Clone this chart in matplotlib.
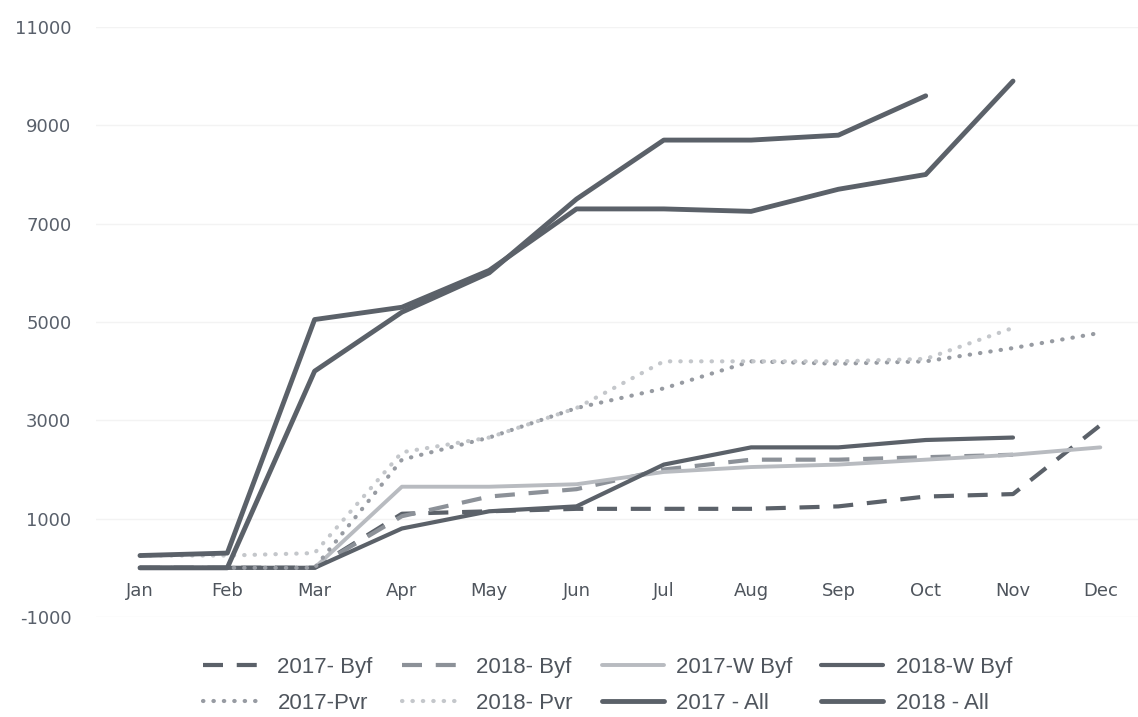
import matplotlib
matplotlib.use("Agg")
import matplotlib.pyplot as plt
import numpy as np

months = ["Jan", "Feb", "Mar", "Apr", "May", "Jun", "Jul", "Aug", "Sep", "Oct", "Nov", "Dec"]
N = np.nan
byf_2017 = [0, 0, 0, 1100, 1150, 1200, 1200, 1200, 1250, 1450, 1500, 2900]
byf_2018 = [0, 0, 0, 1050, 1450, 1600, 2000, 2200, 2200, 2250, 2300, N]
wbyf_2017 = [0, 0, 0, 1650, 1650, 1700, 1950, 2050, 2100, 2200, 2300, 2450]
wbyf_2018 = [0, 0, 0, 800, 1150, 1250, 2100, 2450, 2450, 2600, 2650, N]
pvr_2017 = [0, 0, 0, 2200, 2650, 3250, 3650, 4200, 4150, 4200, 4470, 4780]
pvr_2018 = [250, 250, 300, 2350, 2650, 3250, 4200, 4200, 4200, 4250, 4880, N]
all_2017 = [0, 0, 4000, 5200, 6000, 7500, 8700, 8700, 8800, 9600, N, N]
all_2018 = [250, 300, 5050, 5300, 6050, 7300, 7300, 7250, 7700, 8000, 9900, N]
yticks = [-1000, 1000, 3000, 5000, 7000, 9000, 11000]

DARK = "#5b6169"
MID = "#8c9198"
LIGHT = "#b8bbc0"
DOT1 = "#979ba2"
DOT2 = "#c4c7cb"

fig = plt.figure(figsize=(11.38, 7.17), dpi=100)
left = 96.35 / 1138
ax = fig.add_axes([left, (717 - 617) / 717, 1 - left, (617 - 27) / 717])
x = np.arange(len(months))

styles = [
    ("2017- Byf", byf_2017, dict(color=DARK, lw=3.0, dashes=(4.8, 3.3))),
    ("2018- Byf", byf_2018, dict(color=MID, lw=3.0, dashes=(4.8, 3.3))),
    ("2017-W Byf", wbyf_2017, dict(color=LIGHT, lw=2.8, ls="-")),
    ("2018-W Byf", wbyf_2018, dict(color=DARK, lw=3.0, ls="-")),
    ("2017-Pvr", pvr_2017, dict(color=DOT1, lw=3.0, dashes=(0.1, 2.4), dash_capstyle="round")),
    ("2018- Pvr", pvr_2018, dict(color=DOT2, lw=3.0, dashes=(0.1, 2.4), dash_capstyle="round")),
    ("2017 - All", all_2017, dict(color=DARK, lw=3.5, ls="-")),
    ("2018 - All", all_2018, dict(color=DARK, lw=3.5, ls="-")),
]
handles = {}
for name, vals, kw in styles:
    (h,) = ax.plot(x, vals, solid_capstyle="round", solid_joinstyle="round", label=name, **kw)
    handles[name] = h

ax.set_xlim(-0.5, (1138 - 140) / 87.3)
ax.set_ylim(-1000, 11000)
ax.set_yticks(yticks)
ax.set_yticklabels([str(v) for v in yticks])
ax.set_xticks(x)
ax.set_xticklabels(months)
ax.grid(axis="y", color="#f3f3f3", lw=1)
ax.set_axisbelow(True)
for s in ["top", "right", "left"]:
    ax.spines[s].set_visible(False)
ax.spines["bottom"].set_position(("data", 0))
ax.spines["bottom"].set_visible(False)
ax.tick_params(axis="y", length=0, pad=18, labelsize=13, labelcolor="#59606b")
ax.tick_params(axis="x", length=0, pad=10, labelsize=13, labelcolor="#4f555d")

order = ["2017- Byf", "2017-Pvr", "2018- Byf", "2018- Pvr",
         "2017-W Byf", "2017 - All", "2018-W Byf", "2018 - All"]
leg = fig.legend([handles[k] for k in order], order, loc="center left",
                 bbox_to_anchor=(203 / 1138, (717 - 685.5) / 717), ncol=4, frameon=False,
                 prop=dict(family=["Liberation Sans", "DejaVu Sans"], size=16),
                 borderpad=0, borderaxespad=0,
                 handlelength=2.8, columnspacing=1.3, handletextpad=0.55, labelspacing=0.68)
for t in leg.get_texts():
    t.set_color("#4f555d")

fig.savefig("out.png", dpi=100)
